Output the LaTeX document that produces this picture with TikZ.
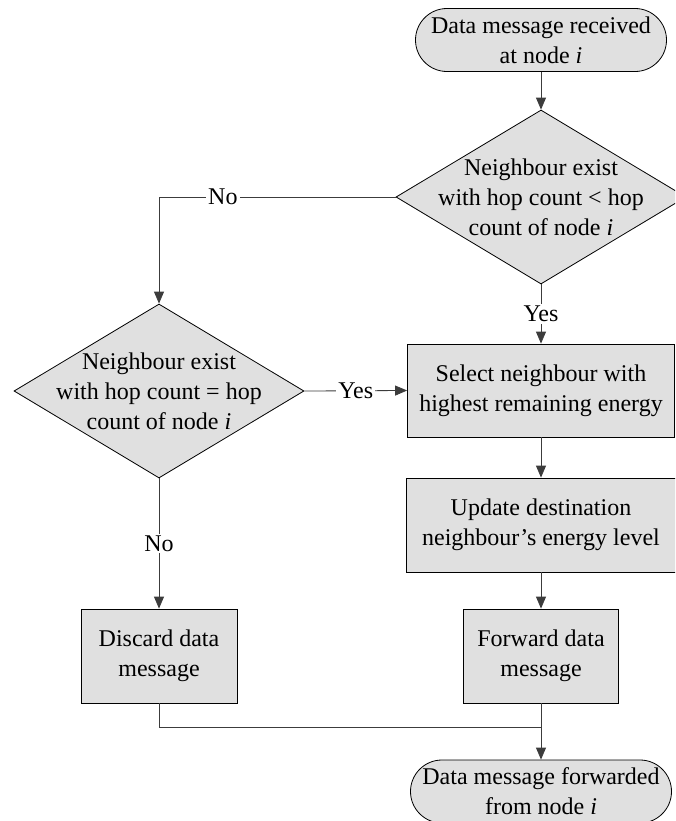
\documentclass[tikz,border=0pt]{standalone}
\usepackage{fontspec}
\setmainfont{Liberation Serif}
\usetikzlibrary{arrows.meta,shapes.geometric}

\definecolor{boxfill}{RGB}{224,224,224}
\definecolor{linegray}{RGB}{60,60,60}

\tikzset{
  base/.style={draw=black, line width=0.6pt, fill=boxfill, align=center,
    inner sep=0pt, font=\fontsize{18}{22.5}\selectfont},
  terminal/.style={base, rectangle, rounded corners=23.6pt,
    minimum height=47.25pt},
  process/.style={base, rectangle},
  decision/.style={base, diamond, minimum width=217.5pt, minimum height=130.5pt},
  dtext/.style={align=center, inner sep=0pt, font=\fontsize{18}{22.5}\selectfont},
  link/.style={draw=linegray, line width=0.6pt},
  arrow/.style={link, -{Triangle[length=9pt,width=7.5pt]}},
  lbl/.style={fill=white, inner sep=1.5pt, font=\fontsize{18}{22.5}\selectfont}
}

\begin{document}
\begin{tikzpicture}[x=0.75pt, y=-0.75pt]
  \clip (0,0) rectangle (675,821);
  \fill[white] (0,0) rectangle (675,821);

  % nodes
  \node[terminal, minimum width=188.25pt] (start) at (541,40)
    {Data message received\\at node \textit{i}};
  \node[decision] (d1) at (541,197) {};
  \node[dtext] at (d1.center) {Neighbour exist\\with hop count < hop\\count of node \textit{i}};
  \node[decision] (d2) at (159,391) {};
  \node[dtext] at (d2.center) {Neighbour exist\\with hop count = hop\\count of node \textit{i}};
  \node[process, minimum width=200.25pt, minimum height=69.75pt] (sel) at (541,390.5)
    {Select neighbour with\\highest remaining energy};
  \node[process, minimum width=202.5pt, minimum height=70.5pt] (upd) at (541,525)
    {Update destination\\neighbour’s energy level};
  \node[process, minimum width=116.25pt, minimum height=70.5pt] (fwd) at (541,656)
    {Forward data\\message};
  \node[process, minimum width=117pt, minimum height=70.5pt] (dis) at (159,656)
    {Discard data\\message};
  \node[terminal, minimum width=195.75pt] (stop) at (541,791.5)
    {Data message forwarded\\from node \textit{i}};

  % helper points
  \coordinate (nocorner) at (d1.west -| d2.north);
  \coordinate (join) at (fwd.south |- 0,727);

  % connectors
  \draw[arrow] (start) -- (d1.north);
  \draw[link] (d1.west) -- node[lbl, pos=0.73] {No} (nocorner);
  \draw[arrow] (nocorner) -- (d2.north);
  \draw[arrow] (d1.south) -- node[lbl] {Yes} (sel.north);
  \draw[arrow] (d2.east) -- node[lbl] {Yes} (sel.west);
  \draw[arrow] (d2.south) -- node[lbl] {No} (dis.north);
  \draw[arrow] (sel) -- (upd);
  \draw[arrow] (upd) -- (fwd);
  \draw[arrow] (fwd) -- (stop);
  \draw[link] (dis.south) |- (join);
\end{tikzpicture}
\end{document}
